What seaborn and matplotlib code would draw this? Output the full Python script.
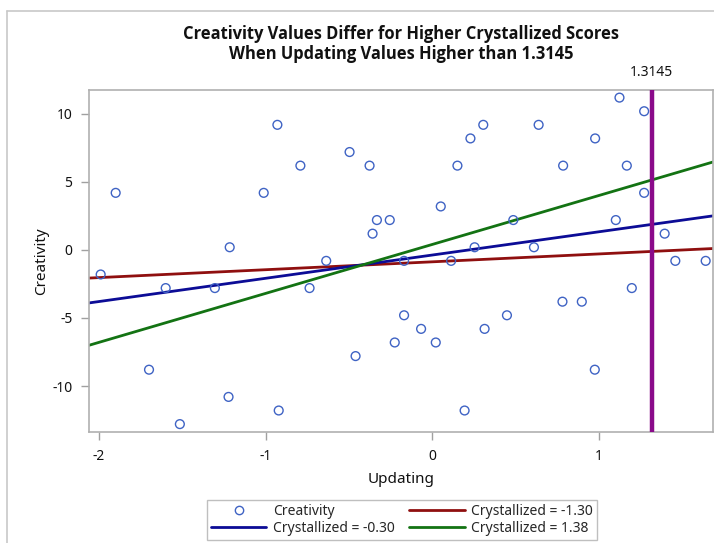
import numpy as np
import pandas as pd
import matplotlib
matplotlib.use("Agg")
import matplotlib.pyplot as plt
import seaborn as sns
from matplotlib.lines import Line2D

# ---- data ----
updating = [-1.99, -1.90, -1.60, -1.70, -1.515, -1.305, -1.223, -1.216, -1.012, -0.93,
            -0.922, -0.792, -0.737, -0.637, -0.497, -0.461, -0.377, -0.359, -0.333, -0.256,
            -0.226, -0.17, -0.17, -0.068, 0.02, 0.05, 0.112, 0.193, 0.228, 0.253,
            0.305, 0.313, 0.15, 0.447, 0.485, 0.637, 0.609, 0.784, 0.78, 0.896,
            0.976, 0.974, 1.10, 1.122, 1.166, 1.196, 1.27, 1.27, 1.393, 1.457, 1.639]
creativity = [-1.8, 4.2, -2.8, -8.8, -12.8, -2.8, -10.8, 0.2, 4.2, 9.2,
              -11.8, 6.2, -2.8, -0.8, 7.2, -7.8, 6.2, 1.2, 2.2, 2.2,
              -6.8, -4.8, -0.8, -5.8, -6.8, 3.2, -0.8, -11.8, 8.2, 0.2,
              9.2, -5.8, 6.2, -4.8, 2.2, 9.2, 0.2, 6.2, -3.8, -3.8,
              8.2, -8.8, 2.2, 11.2, 6.2, -2.8, 4.2, 10.2, 1.2, -0.8, -0.8]

line_labels = ["Crystallized = -1.30", "Crystallized = -0.30", "Crystallized = 1.38"]
line_intercepts = [-0.87, -0.37, 0.41]
line_slopes = [0.58, 1.71, 3.60]
line_colors = ["#8f0f0f", "#0c0c96", "#137313"]

jn_point = 1.3145
title_lines = ["Creativity Values Differ for Higher Crystallized Scores",
               "When Updating Values Higher than 1.3145"]
xticks = [-2, -1, 0, 1]
yticks = [-10, -5, 0, 5, 10]
xlim = (-2.06, 1.683)
ylim = (-13.38, 11.76)

# ---- plot ----
sns.set_style("white")
plt.rcParams['font.family'] = ['Noto Sans', 'DejaVu Sans']

fig = plt.figure(figsize=(7.14, 5.43), dpi=100)
ax = fig.add_axes([89 / 714, 1 - 432 / 543, (713 - 89) / 714, (432 - 90) / 543])

df = pd.DataFrame({"Updating": updating, "Creativity": creativity})
sns.scatterplot(data=df, x="Updating", y="Creativity", ax=ax, marker="o",
                facecolor="none", edgecolor="#3f63c4", linewidth=1.0, s=40,
                legend=False, zorder=3)

xs_line = np.array(xlim)
rows = []
for lab, b0, b1 in zip(line_labels, line_intercepts, line_slopes):
    for xv in xs_line:
        rows.append({"Updating": xv, "Creativity": b0 + b1 * xv, "grp": lab})
ldf = pd.DataFrame(rows)
sns.lineplot(data=ldf, x="Updating", y="Creativity", hue="grp",
             hue_order=line_labels, palette=dict(zip(line_labels, line_colors)),
             ax=ax, linewidth=2.0, zorder=2, legend=False)

ax.axvline(jn_point, color="#8a0a8a", linewidth=3.2, zorder=4)
ax.text(jn_point, ylim[1] + 0.7, f"{jn_point}", ha="center", va="bottom",
        fontsize=10, color="#111111")

ax.set_xlim(*xlim)
ax.set_ylim(*ylim)
ax.set_xticks(xticks)
ax.set_yticks(yticks)
ax.set_xticklabels([str(t) for t in xticks], fontsize=10)
ax.set_yticklabels([str(t) for t in yticks], fontsize=10)
ax.tick_params(axis="both", which="both", direction="out", length=6, width=1,
               color="#a0a0a0", labelcolor="#111111", pad=6,
               bottom=True, left=True)
for sp in ax.spines.values():
    sp.set_color("#b0b0b0")
    sp.set_linewidth(1.2)

ax.set_xlabel("Updating", fontsize=11, labelpad=6, color="#111111")
ax.set_ylabel("Creativity", fontsize=11, labelpad=2, color="#111111")

for t, yp in zip(title_lines, [34, 54]):
    fig.text(401 / 714, 1 - yp / 543, t, ha="center", va="center",
             fontsize=11.9, fontweight="bold", family=["Open Sans", "DejaVu Sans"],
             color="#111111")

# legend
handles = [
    Line2D([], [], marker="o", linestyle="none", markerfacecolor="none",
           markeredgecolor="#3f63c4", markersize=6, markeredgewidth=1.0),
    Line2D([], [], color=line_colors[1], linewidth=2.0),
    Line2D([], [], color=line_colors[0], linewidth=2.0),
    Line2D([], [], color=line_colors[2], linewidth=2.0),
]
labels = ["Creativity", line_labels[1], line_labels[0], line_labels[2]]
leg = fig.legend(handles, labels, ncol=2, loc="center",
                 bbox_to_anchor=(402 / 714, 1 - 520 / 543), frameon=True,
                 fancybox=False, edgecolor="#b0b0b0", fontsize=10,
                 handlelength=4.0, columnspacing=1.0, handletextpad=0.5,
                 labelspacing=0.15, borderpad=0.25)
leg.get_frame().set_linewidth(1.0)

# outer border (left and top)
fig.add_artist(Line2D([7 / 714, 7 / 714], [0, 1 - 11 / 543], color="#c8c8c8",
                      linewidth=1.2, transform=fig.transFigure))
fig.add_artist(Line2D([7 / 714, 1], [1 - 11 / 543, 1 - 11 / 543], color="#c8c8c8",
                      linewidth=1.2, transform=fig.transFigure))

fig.savefig("out.png", dpi=100)
